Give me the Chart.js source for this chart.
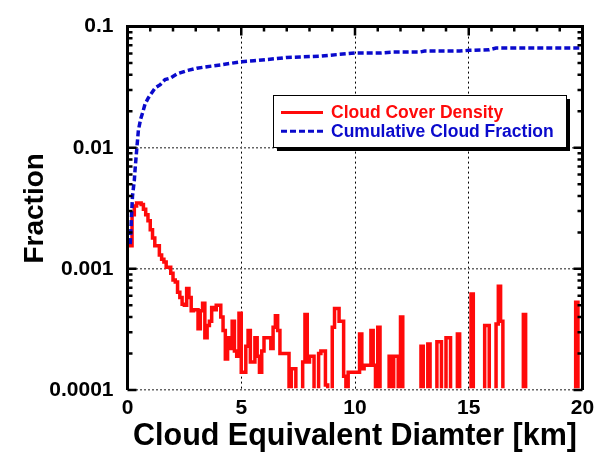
<!DOCTYPE html>
<html>
<head>
<meta charset="utf-8">
<title>Cloud fraction</title>
<script src="https://cdn.jsdelivr.net/npm/chart.js@4.4.0/dist/chart.umd.min.js"></script>
<style>
    html, body { margin: 0; padding: 0; background: #fff; }
    #wrap { width: 603px; height: 456px; }
</style>
</head>
<body>
<div id="wrap"><canvas id="cloudChart" width="603" height="456"></canvas></div>
<script>
// histogram bins are 0.1 km wide (0 = empty bin)
var binWidth = 0.1;
var densityValues = [
    0.00155, 0.00155, 0.0028, 0.0033, 0.0035, 0.0035, 0.0034, 0.0031, 0.0028, 0.0025,
    0.0021, 0.0018, 0.00155, 0.00155, 0.0013, 0.0012, 0.00114, 0.00103, 0.00103, 0.00092,
    0.00081, 0.00078, 0.00064, 0.00058, 0.00051, 0.0005, 0.00069, 0.00058, 0.00045, 0.00046,
    0.00046, 0.00032, 0.00045, 0.00052, 0.00027, 0.00034, 0.00037, 0.00048, 0.00046, 0.0005,
    0.0005, 0.0004, 0.00031, 0.00018, 0.00027, 0.00022, 0.00037, 0.00021, 0.00019, 0.00043,
    0.00014, 0.00014, 0.00023, 0.00031, 0.00017, 0.00017, 0.00027, 0.00019, 0.00014, 0.00021,
    0.00027, 0.00027, 0.00027, 0.00022, 0.00033, 0.00041, 0.00031, 0.0002, 0.0002, 0.0002,
    0.0002, 0, 0.00015, 0.00015, 0, 0, 0, 0.00017, 0.00042, 0.00017,
    0.00019, 0.00019, 0, 0, 0.0002, 0.00021, 0.00021, 0.00011, 0, 0,
    0.00033, 0.00047, 0.00047, 0.00037, 0.00037, 0.00013, 0, 0.00014, 0.00014, 0.00014,
    0.00014, 0.00014, 0.00029, 0.00015, 0.00016, 0.00016, 0.00016, 0.00031, 0.00016, 0,
    0.00033, 0, 0, 0, 0, 0.00019, 0, 0.00019, 0.00019, 0,
    0.0004, 0, 0, 0, 0, 0, 0, 0, 0, 0.00023,
    0, 0, 0.00024, 0, 0, 0, 0.00025, 0.00025, 0, 0,
    0.00027, 0.00027, 0, 0, 0, 0.00029, 0, 0, 0, 0,
    0, 0.00062, 0, 0, 0, 0, 0, 0.00034, 0.00034, 0,
    0, 0, 0.00035, 0.00072, 0.00037, 0, 0, 0, 0, 0,
    0, 0, 0, 0, 0.00042, 0, 0, 0, 0, 0,
    0, 0, 0, 0, 0, 0, 0, 0, 0, 0,
    0, 0, 0, 0, 0, 0, 0, 0.00053, 0, 0
];

var cumulativeX = [0.12, 0.18, 0.22, 0.3, 0.34, 0.41, 0.48, 0.58, 0.67, 0.77, 0.92, 1.07, 1.22, 1.44, 1.65, 1.88,
    2.18, 2.61, 3.05, 3.5, 4.08, 4.52, 5.03, 5.55, 6.13, 6.57, 7.0, 7.6, 8.47, 9.19, 10.0, 11.1, 11.68,
    12.84, 13.06, 14.6, 15.03, 15.9, 16.2, 19.9];
var cumulativeValues = [0.0016, 0.0028, 0.004, 0.0054, 0.0069, 0.0099, 0.014, 0.0173, 0.0196, 0.0229, 0.0259,
    0.0285, 0.0312, 0.0332, 0.0365, 0.0376, 0.0407, 0.0433, 0.0453, 0.0467, 0.0482, 0.0497, 0.0513, 0.0522,
    0.0535, 0.0545, 0.0556, 0.0562, 0.057, 0.0587, 0.0605, 0.0605, 0.0616, 0.0616, 0.0628, 0.0628, 0.0637,
    0.0644, 0.0665, 0.0667];

var xTickValues = [0, 5, 10, 15, 20];
var yTickValues = [0.0001, 0.001, 0.01, 0.1];

var fontName = '"Liberation Sans", Arial, sans-serif';

document.addEventListener("DOMContentLoaded", function() {
    // a log axis can't show 0, so empty bins are drawn just below the axis and clipped away
    var belowAxis = yTickValues[0] / 2;
    var densityPoints = densityValues.map(function(v, i) {
        return { x: Math.round(i * binWidth * 10) / 10, y: v > 0 ? v : belowAxis };
    });
    // close the last bin at the right edge
    densityPoints.push({ x: xTickValues[xTickValues.length - 1], y: densityPoints[densityPoints.length - 1].y });

    var cumulativePoints = cumulativeX.map(function(x, i) {
        return { x: x, y: cumulativeValues[i] };
    });

    // axis frame with inward ticks on left, top and right
    var framePlugin = {
        id: 'frame',
        afterDraw: function(chart) {
            var ctx = chart.ctx, a = chart.chartArea;
            var xs = chart.scales.x, ys = chart.scales.y;
            ctx.save();
            ctx.strokeStyle = '#000';
            ctx.lineWidth = 3;
            ctx.beginPath();
            ctx.moveTo(a.left, a.bottom);
            ctx.lineTo(a.left, a.top);
            ctx.lineTo(a.right, a.top);
            ctx.lineTo(a.right, a.bottom);
            ctx.stroke();

            ctx.lineWidth = 2.5;
            ctx.beginPath();
            yTickValues.forEach(function(decade) {
                for (var m = 1; m <= 9; m++) {
                    var v = decade * m;
                    if (v > ys.max * 1.0001) break;
                    var py = ys.getPixelForValue(v);
                    var len = m === 1 ? 9 : 5;
                    ctx.moveTo(a.left, py); ctx.lineTo(a.left + len, py);
                    ctx.moveTo(a.right, py); ctx.lineTo(a.right - len, py);
                }
            });
            for (var i = xs.min + 1; i < xs.max; i++) {
                var px = xs.getPixelForValue(i);
                var len = i % 5 === 0 ? 9 : 5;
                ctx.moveTo(px, a.top); ctx.lineTo(px, a.top + len);
            }
            ctx.stroke();
            ctx.restore();
        }
    };

    // boxed legend with a drop shadow inside the plot
    var legendPlugin = {
        id: 'boxLegend',
        afterDraw: function(chart) {
            var ctx = chart.ctx;
            var bx = 273, by = 95, bw = 293, bh = 52;
            ctx.save();
            ctx.fillStyle = '#000';
            ctx.fillRect(bx + 4, by + 4, bw, bh);
            ctx.fillStyle = '#fff';
            ctx.fillRect(bx, by, bw, bh);
            ctx.strokeStyle = '#000';
            ctx.lineWidth = 1;
            ctx.strokeRect(bx + 0.5, by + 0.5, bw, bh);
            ctx.font = 'bold 17.5px ' + fontName;
            ctx.textBaseline = 'middle';
            chart.data.datasets.forEach(function(ds, i) {
                var ly = by + 17.5 + i * 18.7;
                ctx.strokeStyle = ds.borderColor;
                ctx.lineWidth = 3;
                ctx.setLineDash(ds.borderDash || []);
                ctx.beginPath();
                ctx.moveTo(bx + 8, ly);
                ctx.lineTo(bx + 50, ly);
                ctx.stroke();
                ctx.setLineDash([]);
                ctx.fillStyle = ds.borderColor;
                ctx.fillText(ds.label, bx + 58, ly + 1);
            });
            ctx.restore();
        }
    };

    var ctx = document.getElementById('cloudChart').getContext('2d');
    var cloudChart = new Chart(ctx, {
        type: 'line',
        data: {
            datasets: [{
                label: 'Cloud Cover Density',
                data: densityPoints,
                borderColor: '#ff0a0a',
                borderWidth: 3.5,
                stepped: true,
                pointRadius: 0,
                fill: false,
                order: 2,
                clip: { left: 2, top: 2, right: 2, bottom: -1.8 }
            }, {
                label: 'Cumulative Cloud Fraction',
                data: cumulativePoints,
                borderColor: '#0a0acc',
                borderWidth: 3.5,
                borderDash: [6, 3],
                pointRadius: 0,
                tension: 0,
                fill: false,
                order: 1
            }]
        },
        options: {
            responsive: false,
            animation: false,
            devicePixelRatio: 1,
            events: [],
            layout: { padding: { left: 0, right: 20.5, top: 20, bottom: 0 } },
            scales: {
                x: {
                    type: 'linear',
                    min: 0,
                    max: 20,
                    afterBuildTicks: function(scale) {
                        scale.ticks = xTickValues.map(function(v) { return { value: v }; });
                    },
                    afterFit: function(scale) { scale.height = 66; },
                    ticks: {
                        color: '#000',
                        padding: 6,
                        maxRotation: 0,
                        font: { family: fontName, size: 21, weight: 'bold' }
                    },
                    grid: { drawTicks: false, color: '#000', lineWidth: 1 },
                    border: { display: false, dash: [2, 3] },
                    title: {
                        display: true,
                        text: 'Cloud Equivalent Diamter [km]',
                        color: '#000',
                        font: { family: fontName, size: 30.5, weight: 'bold' },
                        padding: { top: 0, bottom: 1 }
                    }
                },
                y: {
                    type: 'logarithmic',
                    min: 0.0001,
                    max: 0.1,
                    afterBuildTicks: function(scale) {
                        scale.ticks = yTickValues.map(function(v) { return { value: v }; });
                    },
                    afterFit: function(scale) { scale.width = 127.5; },
                    ticks: {
                        color: '#000',
                        padding: 14,
                        font: { family: fontName, size: 21, weight: 'bold' },
                        callback: function(value) { return String(value); }
                    },
                    grid: { drawTicks: false, color: '#666', lineWidth: 1.5 },
                    border: { display: false, dash: [2, 2] },
                    title: {
                        display: true,
                        text: 'Fraction',
                        color: '#000',
                        font: { family: fontName, size: 28, weight: 'bold' },
                        padding: { top: 18, bottom: 0 }
                    }
                }
            },
            plugins: {
                legend: { display: false },
                tooltip: { enabled: false }
            }
        },
        plugins: [framePlugin, legendPlugin]
    });
});
</script>
</body>
</html>
